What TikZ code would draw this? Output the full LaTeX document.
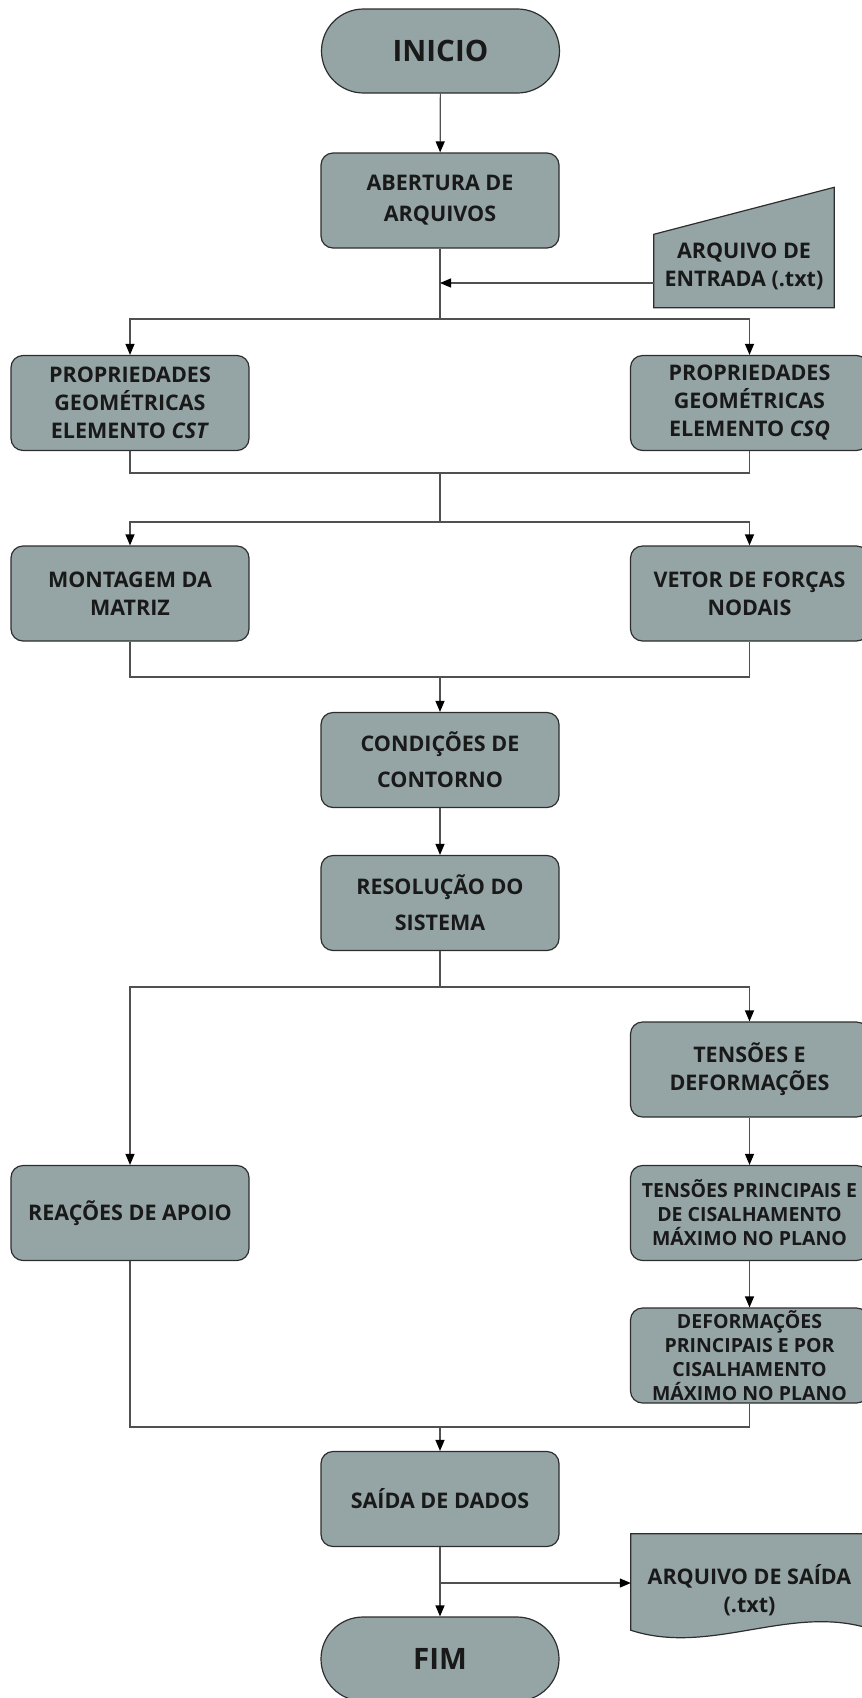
\documentclass[tikz,border=0pt]{standalone}
\usepackage{fontspec}
\setmainfont{Open Sans}
\usetikzlibrary{arrows.meta,backgrounds}
\definecolor{boxfill}{RGB}{149,165,166}
\definecolor{boxline}{RGB}{45,45,45}
\definecolor{conline}{RGB}{80,80,80}
\definecolor{txtcol}{RGB}{25,25,25}

\begin{document}
\begin{tikzpicture}[
        x=1pt, y=-1pt,
        every node/.style={font=\bfseries\fontsize{21.5}{28}\selectfont, text=txtcol, align=center},
        proc/.style={draw=boxline, line width=1.2pt, fill=boxfill, rounded corners=12pt,
            minimum width=238pt, minimum height=95pt, inner sep=0pt},
        term/.style={proc, rounded corners=42pt, minimum height=84pt,
            font=\bfseries\fontsize{29.5}{34}\selectfont},
        smalltext/.style={font=\bfseries\fontsize{19.5}{24}\selectfont},
        docshape/.style={draw=boxline, line width=1.2pt, fill=boxfill},
        arr/.style={draw=conline, line width=1.2pt, -{Triangle[length=11pt,width=9pt,color=black]}},
        con/.style={draw=conline, line width=1.2pt}
    ]
    \useasboundingbox (0,0) rectangle (862,1698);

    % main column
    \node[term] (inicio) at (440.5,51) {INICIO};
    \node[proc] (abertura) at (440,200.5) {ABERTURA DE\\[3pt]ARQUIVOS};
    \node[proc] (condicoes) at (440,760) {CONDIÇÕES DE\\[8pt]CONTORNO};
    \node[proc] (resolucao) at (440,903) {RESOLUÇÃO DO\\[8pt]SISTEMA};
    \node[proc] (saida) at (440,1499) {SAÍDA DE DADOS};
    \node[term] (fim) at (440,1659) {FIM};

    % left column
    \node[proc] (cst) at (130,403) {PROPRIEDADES\\GEOMÉTRICAS\\ELEMENTO \textit{CST}};
    \node[proc] (montagem) at (130,593.5) {MONTAGEM DA\\MATRIZ};
    \node[proc] (reacoes) at (130,1213) {REAÇÕES DE APOIO};

    % right column
    \node[proc] (csq) at (749.5,403) {PROPRIEDADES\\GEOMÉTRICAS\\ELEMENTO \textit{CSQ}};
    \node[proc] (vetor) at (749.5,593.5) {VETOR DE FORÇAS\\NODAIS};
    \node[proc] (tensdef) at (749.5,1069.5) {TENSÕES E\\DEFORMAÇÕES};
    \node[proc, smalltext] (tensprinc) at (749.5,1213) {TENSÕES PRINCIPAIS E\\DE CISALHAMENTO\\MÁXIMO NO PLANO};
    \node[proc, smalltext] (defprinc) at (749.5,1355.5) {DEFORMAÇÕES\\PRINCIPAIS E POR\\CISALHAMENTO\\MÁXIMO NO PLANO};

    % files
    \node[minimum width=180pt, minimum height=73pt, inner sep=0pt] (entrada) at (744,266) {ARQUIVO DE\\ENTRADA (.txt)};
    \node[minimum width=237pt, minimum height=96pt, inner sep=0pt] (arqsaida) at (749.5,1590) {ARQUIVO DE SAÍDA\\(.txt)};
    \begin{scope}[on background layer]
        \draw[docshape] ([yshift=-5pt]entrada.south west) -- ([yshift=-5pt]entrada.south east)
            -- ([yshift=42pt]entrada.north east) -- ([yshift=-5pt]entrada.north west) -- cycle;
        \draw[docshape] ([yshift=8pt]arqsaida.north west) -- ([yshift=8pt]arqsaida.north east)
            -- ([yshift=10pt]arqsaida.south east)
            .. controls ([xshift=-79pt,yshift=34pt]arqsaida.south east) and ([xshift=79pt,yshift=-18pt]arqsaida.south west)
            .. ([yshift=8pt]arqsaida.south west) -- cycle;
    \end{scope}

    % junctions
    \coordinate (jin) at (440,283);
    \coordinate (s1) at (440,319);
    \coordinate (m1) at (440,473);
    \coordinate (s2) at (440,522);
    \coordinate (m2) at (440,677);
    \coordinate (s3) at (440,987);
    \coordinate (m3) at (440,1427);
    \coordinate (jout) at (440,1583);

    % connectors
    \draw[arr] (inicio) -- (abertura);
    \draw[con] (abertura) -- (s1);
    \draw[arr] (jin -| entrada.west) -- (jin);
    \draw[arr] (s1) -| (cst);
    \draw[arr] (s1) -| (csq);
    \draw[con] (cst) |- (m1) -| (csq);
    \draw[con] (m1) -- (s2);
    \draw[arr] (s2) -| (montagem);
    \draw[arr] (s2) -| (vetor);
    \draw[con] (montagem) |- (m2) -| (vetor);
    \draw[arr] (m2) -- (condicoes);
    \draw[arr] (condicoes) -- (resolucao);
    \draw[con] (resolucao) -- (s3);
    \draw[arr] (s3) -| (reacoes);
    \draw[arr] (s3) -| (tensdef);
    \draw[arr] (tensdef) -- (tensprinc);
    \draw[arr] (tensprinc) -- (defprinc);
    \draw[con] (reacoes) |- (m3) -| (defprinc);
    \draw[arr] (m3) -- (saida);
    \draw[arr] (saida) -- (fim);
    \draw[arr] (jout) -- (jout -| arqsaida.west);
\end{tikzpicture}
\end{document}
